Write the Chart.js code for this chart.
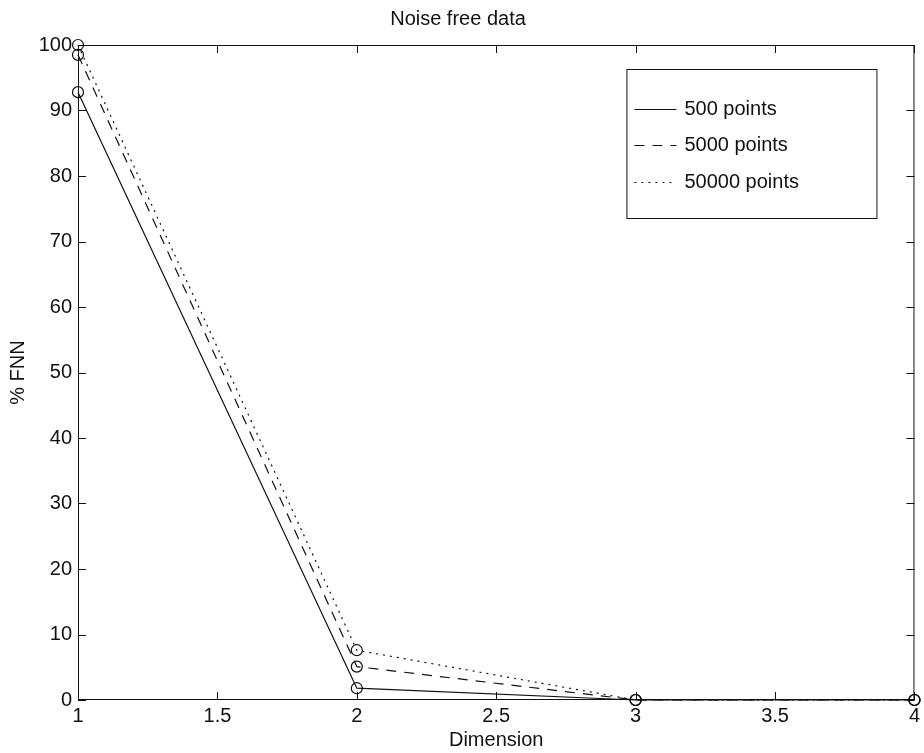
<!DOCTYPE html>
<html>
<head>
<meta charset="utf-8">
<script src="https://cdn.jsdelivr.net/npm/chart.js@4/dist/chart.umd.min.js"></script>
<style>
  body { margin: 0; background: #fff; }
  #c { display: block; }
</style>
</head>
<body>
<canvas id="c" width="924" height="753"></canvas>
<script>
// data
var dims = [1, 2, 3, 4];
var fnn500 = [92.8, 1.8, 0, 0];
var fnn5000 = [98.5, 5.1, 0, 0];
var fnn50000 = [100, 7.6, 0, 0];
var seriesNames = ["500 points", "5000 points", "50000 points"];

var FONT = "'Liberation Sans', Arial, Helvetica, sans-serif";
var INK = "#111";

function pts(ys) {
  return dims.map(function (d, i) { return { x: d, y: ys[i] }; });
}

function ds(label, ys, dash) {
  return {
    label: label,
    data: pts(ys),
    borderColor: INK,
    borderWidth: 1.2,
    borderDash: dash,
    pointRadius: 5.5,
    pointHoverRadius: 5.5,
    pointBorderColor: INK,
    pointBorderWidth: 1.2,
    pointBackgroundColor: "rgba(0,0,0,0)",
    fill: false,
    tension: 0,
    clip: false
  };
}

// matlab-like box with inward ticks on all four sides
var boxTicks = {
  id: "boxTicks",
  afterDraw: function (chart) {
    var ctx = chart.ctx, a = chart.chartArea;
    var xs = chart.scales.x, ys = chart.scales.y;
    var L = 8;
    ctx.save();
    ctx.strokeStyle = INK;
    ctx.lineWidth = 1;
    ctx.strokeRect(a.left + 0.5, a.top + 0.5, a.right - a.left - 1, a.bottom - a.top - 1);
    ctx.beginPath();
    xs.ticks.forEach(function (t) {
      var px = Math.round(xs.getPixelForValue(t.value)) + 0.5;
      ctx.moveTo(px, a.bottom); ctx.lineTo(px, a.bottom - L);
      ctx.moveTo(px, a.top); ctx.lineTo(px, a.top + L);
    });
    ys.ticks.forEach(function (t) {
      var py = Math.round(ys.getPixelForValue(t.value)) + 0.5;
      ctx.moveTo(a.left, py); ctx.lineTo(a.left + L, py);
      ctx.moveTo(a.right, py); ctx.lineTo(a.right - L, py);
    });
    ctx.stroke();

    // legend box in the top right corner
    var bw = 250, bh = 149;
    var bx = a.right - 38 - bw, by = a.top + 24;
    ctx.fillStyle = "#fff";
    ctx.fillRect(bx, by, bw, bh);
    ctx.strokeRect(bx + 0.5, by + 0.5, bw, bh);
    ctx.font = "20px " + FONT;
    ctx.textBaseline = "middle";
    ctx.textAlign = "left";
    var rows = [40, 76, 113];
    chart.data.datasets.forEach(function (d, i) {
      var y = by + rows[i] + 0.5;
      ctx.setLineDash(d.borderDash || []);
      ctx.lineWidth = 1.2;
      ctx.beginPath();
      ctx.moveTo(bx + 8, y); ctx.lineTo(bx + 50, y);
      ctx.stroke();
      ctx.setLineDash([]);
      ctx.fillStyle = INK;
      ctx.fillText(d.label, bx + 58, y);
    });
    ctx.restore();
  }
};

new Chart(document.getElementById("c"), {
  type: "line",
  data: {
    datasets: [
      ds(seriesNames[0], fnn500, []),
      ds(seriesNames[1], fnn5000, [10, 8]),
      ds(seriesNames[2], fnn50000, [2, 5])
    ]
  },
  options: {
    responsive: false,
    animation: false,
    layout: { padding: { left: 0, right: 8, top: 0, bottom: 0 } },
    plugins: {
      legend: { display: false },
      tooltip: { enabled: false },
      title: {
        display: true,
        text: "Noise free data",
        color: INK,
        font: { family: FONT, size: 20, weight: "normal", lineHeight: 1.2 },
        padding: { top: 7, bottom: 14 }
      }
    },
    scales: {
      x: {
        type: "linear",
        min: 1,
        max: 4,
        afterFit: function (s) { s.height = 53; },
        grid: { display: false, drawTicks: false },
        border: { display: false },
        ticks: {
          stepSize: 0.5,
          padding: 4,
          color: INK,
          maxRotation: 0,
          font: { family: FONT, size: 20 },
          callback: function (v) { return String(Math.round(v * 10) / 10); }
        },
        title: {
          display: true,
          text: "Dimension",
          color: INK,
          font: { family: FONT, size: 20, lineHeight: 1.2 },
          padding: { top: 0, bottom: 1 }
        }
      },
      y: {
        min: 0,
        max: 100,
        afterFit: function (s) { s.width = 78; },
        grid: { display: false, drawTicks: false },
        border: { display: false },
        ticks: {
          stepSize: 10,
          padding: 6,
          color: INK,
          font: { family: FONT, size: 20 }
        },
        title: {
          display: true,
          text: "% FNN",
          color: INK,
          font: { family: FONT, size: 20, lineHeight: 1.2 },
          padding: { top: 6, bottom: 0 }
        }
      }
    }
  },
  plugins: [boxTicks]
});
</script>
</body>
</html>
